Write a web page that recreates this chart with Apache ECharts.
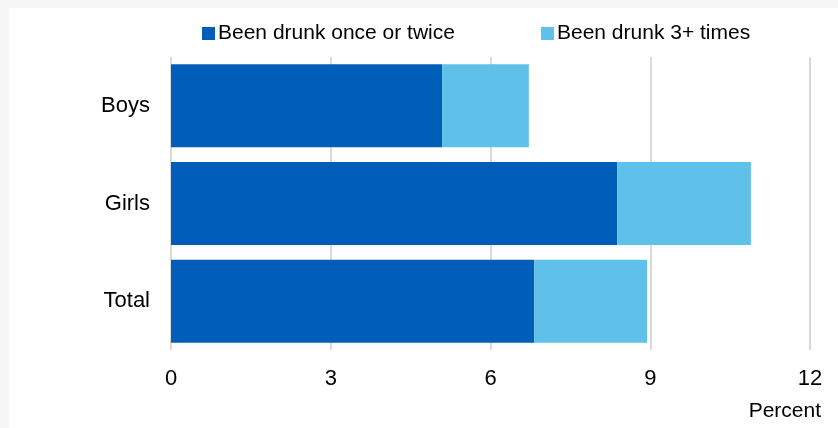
<!DOCTYPE html>
<html><head><meta charset="utf-8">
<script src="https://cdn.jsdelivr.net/npm/echarts@6/dist/echarts.min.js"></script>
<style>
html,body{margin:0;padding:0;background:#f7f7f7;width:838px;height:428px;overflow:hidden;}
#c{position:absolute;left:9px;top:8px;width:829px;height:420px;background:#fff;}
</style></head>
<body><div id="c"></div>
<script>
const categories = ['Boys', 'Girls', 'Total'];
const onceOrTwice = [5.09, 8.38, 6.82];
const threePlus = [1.63, 2.51, 2.12];
const seriesNames = ['Been drunk once or twice', 'Been drunk 3+ times'];
const xTicks = [0, 3, 6, 9, 12];

const chart = echarts.init(document.getElementById('c'));
const font = 'Liberation Sans, Arial, sans-serif';
chart.setOption({
  animation: false,
  textStyle: {fontFamily: font},
  legend: {
    top: 10, left: 188,
    itemWidth: 13, itemHeight: 13, itemGap: 86,
    icon: 'rect',
    textStyle: {fontSize: 21, color: '#000', fontFamily: font, padding: [0,0,0,-2]},
    data: seriesNames
  },
  grid: {left: 162, right: 28, top: 49, bottom: 78, containLabel: false},
  xAxis: {
    type: 'value', min: xTicks[0], max: xTicks[xTicks.length-1], interval: 3,
    axisLine: {show: false}, axisTick: {show: false},
    splitLine: {show: true, lineStyle: {color: '#d9d9d9', width: 2}},
    axisLabel: {fontSize: 22, color: '#000', margin: 18, fontFamily: font}
  },
  yAxis: {
    type: 'category', inverse: true, data: categories,
    axisLine: {show: false}, axisTick: {show: false},
    axisLabel: {fontSize: 22, color: '#000', margin: 21, fontFamily: font}
  },
  series: [
    {name: seriesNames[0], type: 'bar', stack: 's', data: onceOrTwice, barCategoryGap: '15%',
     itemStyle: {color: '#005eb8'}},
    {name: seriesNames[1], type: 'bar', stack: 's', data: threePlus, barCategoryGap: '15%',
     itemStyle: {color: '#5fc1ea'}}
  ],
  graphic: [{
    type: 'text', right: 17, top: 393,
    style: {text: 'Percent', fontSize: 21, fill: '#000', fontFamily: font}
  }]
});
</script></body></html>
